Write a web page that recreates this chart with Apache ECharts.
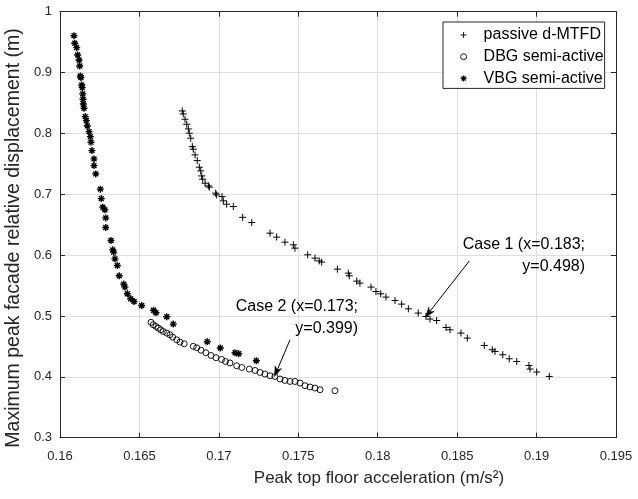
<!DOCTYPE html>
<html>
<head>
<meta charset="utf-8">
<script src="https://cdn.jsdelivr.net/npm/echarts@6/dist/echarts.min.js"></script>
<style>html,body{margin:0;padding:0;background:#fff;}#c{width:638px;height:499px;}</style>
</head>
<body>
<div id="c"></div>
<script>
// ---- data ----
const xTicks = [0.16, 0.165, 0.17, 0.175, 0.18, 0.185, 0.19, 0.195];
const yTicks = [0.3, 0.4, 0.5, 0.6, 0.7, 0.8, 0.9, 1];
const seriesNames = ['passive d-MTFD', 'DBG semi-active', 'VBG semi-active'];
const xTitle = 'Peak top floor acceleration (m/s²)';
const yTitle = 'Maximum peak facade relative displacement (m)';

const passive = [
  [0.16770,0.8369],[0.16776,0.8320],[0.16787,0.8233],[0.16798,0.8151],[0.16808,0.8074],
  [0.16814,0.8003],[0.16823,0.7921],[0.16833,0.7783],[0.16839,0.7741],[0.16850,0.7647],
  [0.16864,0.7553],[0.16877,0.7445],[0.16886,0.7384],[0.16892,0.7302],[0.16898,0.7248],
  [0.16913,0.7182],[0.16934,0.7138],[0.16940,0.7117],[0.16980,0.7018],[0.16986,0.6990],
  [0.17020,0.6962],[0.17028,0.6892],[0.17049,0.6837],[0.17091,0.6798],[0.17150,0.6621],
  [0.17207,0.6535],[0.17322,0.6361],[0.17364,0.6296],[0.17416,0.6213],[0.17469,0.6169],
  [0.17479,0.6115],[0.17559,0.6005],[0.17605,0.5951],[0.17632,0.5906],[0.17647,0.5885],
  [0.17746,0.5770],[0.17815,0.5704],[0.17821,0.5660],[0.17868,0.5573],[0.17888,0.5540],
  [0.17958,0.5475],[0.17989,0.5402],[0.18019,0.5365],[0.18052,0.5310],[0.18109,0.5255],
  [0.18151,0.5195],[0.18193,0.5118],[0.18255,0.5048],[0.18304,0.4992],[0.18329,0.4949],
  [0.18371,0.4926],[0.18430,0.4811],[0.18455,0.4773],[0.18524,0.4719],[0.18564,0.4637],
  [0.18671,0.4516],[0.18721,0.4445],[0.18738,0.4417],[0.18787,0.4363],[0.18828,0.4297],
  [0.18875,0.4253],[0.18952,0.4187],[0.18959,0.4128],[0.19001,0.4079],[0.19080,0.4007]
];

const dbg = [
  [0.16573,0.4896],[0.16587,0.4856],[0.16604,0.4828],[0.16619,0.4801],[0.16634,0.4773],
  [0.16650,0.4745],[0.16672,0.4719],[0.16692,0.4691],[0.16709,0.4653],[0.16735,0.4609],
  [0.16755,0.4571],[0.16782,0.4543],[0.16839,0.4502],[0.16861,0.4478],[0.16888,0.4437],
  [0.16918,0.4396],[0.16951,0.4351],[0.16982,0.4314],[0.17017,0.4286],[0.17042,0.4253],
  [0.17070,0.4228],[0.17112,0.4182],[0.17144,0.4154],[0.17192,0.4128],[0.17228,0.4105],
  [0.17259,0.4072],[0.17290,0.4046],[0.17322,0.4018],[0.17353,0.4007],[0.17385,0.3964],
  [0.17416,0.3941],[0.17448,0.3924],[0.17479,0.3924],[0.17511,0.3898],[0.17542,0.3854],
  [0.17574,0.3833],[0.17605,0.3816],[0.17637,0.3788],[0.17731,0.3772]
];

const vbg = [
  [0.16088,0.9606],[0.16093,0.9481],[0.16105,0.9409],[0.16111,0.9289],[0.16120,0.9207],
  [0.16124,0.9108],[0.16128,0.8944],[0.16132,0.8916],[0.16137,0.8796],[0.16140,0.8752],
  [0.16143,0.8649],[0.16145,0.8562],[0.16147,0.8484],[0.16151,0.8414],[0.16159,0.8276],
  [0.16166,0.8210],[0.16172,0.8123],[0.16183,0.8030],[0.16191,0.7947],[0.16195,0.7856],
  [0.16201,0.7718],[0.16214,0.7581],[0.16214,0.7471],[0.16225,0.7335],[0.16254,0.7084],
  [0.16260,0.6929],[0.16269,0.6788],[0.16283,0.6744],[0.16288,0.6612],[0.16288,0.6453],
  [0.16321,0.6240],[0.16332,0.6087],[0.16338,0.6049],[0.16346,0.5939],[0.16361,0.5829],
  [0.16373,0.5660],[0.16401,0.5524],[0.16409,0.5475],[0.16424,0.5365],[0.16445,0.5283],
  [0.16466,0.5238],[0.16514,0.5172],[0.16589,0.5094],[0.16604,0.5053],[0.16672,0.4987],
  [0.16713,0.4867],[0.16927,0.4576],[0.17009,0.4473],[0.17102,0.4396],[0.17125,0.4379],
  [0.17236,0.4264]
];

// annotations: text anchor (right/top) and arrow (from -> tip), in data units
const annoText = ['Case 1 (x=0.183;\ny=0.498)', 'Case 2 (x=0.173;\ny=0.399)'];
const annoTextAt = [[0.19305, 0.6347], [0.17876, 0.5334]];
const annoArrowFrom = [[0.18577, 0.5906], [0.17448, 0.4609]];
const annoArrowTo = [[0.18300, 0.4980], [0.17350, 0.4007]];

// ---- chart ----
const FONT = 'Liberation Sans, Arial, Helvetica, sans-serif';
const AX = '#262626';
const PLUS = 'path://M0,5L10,5M5,0L5,10';
const STAR = 'path://M0,5L10,5M5,0L5,10M1.5,1.5L8.5,8.5M1.5,8.5L8.5,1.5';
const CIRC = 'path://M10,5A5,5,0,1,1,0,5A5,5,0,1,1,10,5Z';
const fmt = v => String(+(+v).toFixed(3));

const chart = echarts.init(document.getElementById('c'), null, {renderer: 'canvas'});
const xMin = xTicks[0], xMax = xTicks[xTicks.length - 1];
const yMin = yTicks[0], yMax = yTicks[yTicks.length - 1];
const xInt = +(xTicks[1] - xTicks[0]).toFixed(6);
const yInt = +(yTicks[1] - yTicks[0]).toFixed(6);

const baseAxis = {
  axisLine: {show: true, onZero: false, lineStyle: {color: AX, width: 1}},
  axisTick: {show: true, inside: true, length: 5, lineStyle: {color: AX}},
};
const legendIcons = [PLUS, CIRC, STAR];

chart.setOption({
  animation: false,
  backgroundColor: '#fff',
  grid: {left: 60, top: 11.7, width: 556, height: 426, containLabel: false},
  legend: {
    orient: 'vertical', left: 443, top: 22,
    data: seriesNames.map((n, i) => ({
      name: n, icon: legendIcons[i],
      itemStyle: {color: 'transparent', borderColor: '#000', borderWidth: i === 2 ? 1.2 : 0.9}
    })),
    itemWidth: 30, itemHeight: 6, itemGap: 3.7,
    padding: [4, 1, 1, 17],
    borderColor: AX, borderWidth: 1, backgroundColor: '#fff', borderRadius: 0,
    textStyle: {fontFamily: FONT, fontSize: 16, color: '#000', lineHeight: 18},
    selectedMode: false
  },
  xAxis: [
    Object.assign({}, baseAxis, {
      type: 'value', min: xMin, max: xMax, interval: xInt, position: 'bottom',
      axisLabel: {fontFamily: FONT, fontSize: 13, color: AX, margin: 12, formatter: fmt},
      splitLine: {show: true, lineStyle: {color: '#dfdfdf', width: 1}},
      name: xTitle, nameLocation: 'middle', nameGap: 32,
      nameTextStyle: {fontFamily: FONT, fontSize: 17, color: AX, padding: [0, 0, 0, 82]}
    }),
    Object.assign({}, baseAxis, {
      type: 'value', min: xMin, max: xMax, interval: xInt, position: 'top',
      axisLabel: {show: false}, splitLine: {show: false}
    })
  ],
  yAxis: [
    Object.assign({}, baseAxis, {
      type: 'value', min: yMin, max: yMax, interval: yInt, position: 'left',
      axisLabel: {fontFamily: FONT, fontSize: 13, color: AX, margin: 8, formatter: fmt},
      splitLine: {show: true, lineStyle: {color: '#dfdfdf', width: 1}}
    }),
    Object.assign({}, baseAxis, {
      type: 'value', min: yMin, max: yMax, interval: yInt, position: 'right',
      axisLabel: {show: false}, splitLine: {show: false}
    })
  ],
  series: [
    {
      name: seriesNames[0], type: 'scatter', data: passive, symbol: PLUS, symbolSize: 7,
      itemStyle: {color: 'transparent', borderColor: '#000', borderWidth: 1, opacity: 1},
      emphasis: {disabled: true}
    },
    {
      name: seriesNames[1], type: 'scatter', data: dbg, symbol: 'circle', symbolSize: 6,
      itemStyle: {color: 'transparent', borderColor: '#000', borderWidth: 0.9, opacity: 1},
      emphasis: {disabled: true}
    },
    {
      name: seriesNames[2], type: 'scatter', data: vbg, symbol: STAR, symbolSize: 7,
      itemStyle: {color: 'transparent', borderColor: '#000', borderWidth: 1.4, opacity: 1},
      emphasis: {disabled: true}
    }
  ]
});

// y-axis title and annotations through the chart's own coordinate conversion
const toPx = p => chart.convertToPixel({xAxisIndex: 0, yAxisIndex: 0}, p);
const graphics = [{
  type: 'text', x: 14, y: 238, rotation: Math.PI / 2, z: 100,
  style: {text: yTitle, fill: AX, font: '19.5px ' + FONT, align: 'center', verticalAlign: 'middle'}
}];
annoText.forEach((t, i) => {
  const at = toPx(annoTextAt[i]);
  graphics.push({
    type: 'text', x: at[0], y: at[1], z: 100,
    style: {text: t, fill: '#000', font: '16px ' + FONT, align: 'right', verticalAlign: 'top', lineHeight: 21.7}
  });
  const a = toPx(annoArrowFrom[i]), b = toPx(annoArrowTo[i]);
  const dx = b[0] - a[0], dy = b[1] - a[1];
  const L = Math.hypot(dx, dy), ux = dx / L, uy = dy / L;
  const px = -uy, py = ux;
  const hl = 10, hw = 3.5, notch = 7;
  const base = [b[0] - ux * hl, b[1] - uy * hl];
  const mid = [b[0] - ux * notch, b[1] - uy * notch];
  graphics.push({
    type: 'line', z: 100,
    shape: {x1: a[0], y1: a[1], x2: mid[0], y2: mid[1]},
    style: {stroke: '#000', lineWidth: 1}
  });
  graphics.push({
    type: 'polygon', z: 100,
    shape: {points: [b, [base[0] + px * hw, base[1] + py * hw], mid, [base[0] - px * hw, base[1] - py * hw]]},
    style: {fill: '#000', stroke: '#000', lineWidth: 0.5}
  });
});
chart.setOption({graphic: graphics});
</script>
</body>
</html>
